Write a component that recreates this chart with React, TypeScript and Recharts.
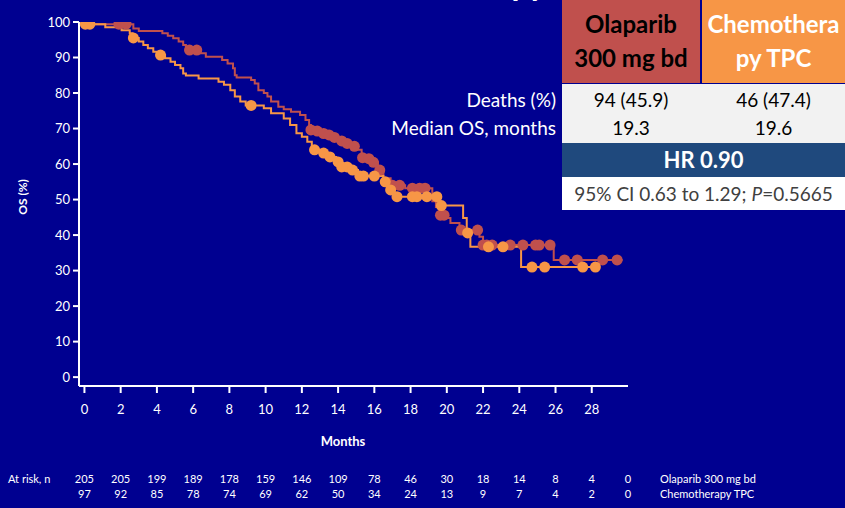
import { ComposedChart, Line, Scatter, XAxis, YAxis } from "recharts";

// KM steps: [months, OS %]
const olaparibCurve: [number, number][] = [
  [0, 100], [0.15, 99.4], [2.7, 98.2], [3.0, 97.5], [4.3, 96.8], [4.6, 96.1], [4.9, 95.4], [5.2, 94.5],
  [5.45, 93.5], [5.6, 92.1], [6.4, 91.2], [6.7, 90.2], [7.6, 89.3], [7.9, 88.3], [8.2, 87], [8.3, 85],
  [8.4, 84.4], [9.2, 83.7], [9.4, 82.7], [9.6, 80.8], [9.9, 80], [10.1, 79], [10.3, 77.6], [10.7, 76.1],
  [11.0, 75.4], [11.4, 74.7], [11.9, 73.8], [12.2, 72.4], [12.4, 71], [12.5, 69.6], [12.8, 69.3],
  [13.1, 68.6], [13.45, 68.2], [13.7, 67.5], [14.0, 66.5], [14.4, 65.8], [14.8, 65], [15.1, 64],
  [15.3, 61.8], [15.6, 61.5], [15.9, 60.5], [16.2, 58.3], [16.5, 56], [16.9, 54], [17.7, 53.2],
  [19.2, 49.5], [19.4, 47.9], [19.6, 45.6], [20.0, 44.8], [20.2, 43.4], [20.7, 41.4], [21.8, 39.5],
  [22.0, 37.2], [25.9, 33], [29.7, 33],
];

const chemoCurve: [number, number][] = [
  [0, 100], [0.15, 99.4], [1.15, 98.5], [2.05, 97.7], [2.5, 96.8], [2.65, 95.5], [3.0, 94.5], [3.25, 93.5],
  [3.5, 92.6], [3.8, 91.6], [4.1, 90.7], [4.45, 89.8], [4.75, 88.8], [5.0, 87.9], [5.3, 87], [5.45, 85.5],
  [5.6, 84.9], [6.3, 84.1], [7.4, 83.2], [7.7, 82.3], [8.05, 80.8], [8.3, 79], [8.6, 77.6], [8.9, 76.5],
  [9.9, 75.7], [10.3, 74.3], [11.0, 72.8], [11.35, 71], [11.7, 68.7], [12.0, 67.7], [12.3, 66.3],
  [12.55, 64], [13.0, 63.1], [13.4, 62], [13.9, 60.6], [14.1, 59.2], [14.7, 58.3], [15.1, 56.6],
  [16.5, 55], [16.8, 52.7], [17.1, 50.8], [19.6, 48.3], [20.9, 44.8], [21.1, 40.6], [21.3, 36.7],
  [24.1, 31], [28.3, 31],
];

// censored patients
const olaparibCensored: [number, number][] = [
  [1.9, 99.4], [2.3, 99.4], [5.8, 92.1], [6.2, 92.1], [12.5, 69.6], [12.85, 69.3], [13.2, 68.6],
  [13.5, 68.2], [13.8, 67.5], [14.2, 66.5], [14.5, 65.8], [14.9, 65], [15.35, 61.8], [15.7, 61.5],
  [15.95, 60.5], [16.3, 58.3], [17.0, 54], [17.4, 54], [18.1, 53.2], [18.5, 53.2], [18.8, 53.2],
  [19.65, 45.6], [19.85, 45.6], [20.8, 41.4], [21.7, 41.4], [22.0, 37.2], [22.2, 37.2], [22.5, 37.2],
  [23.5, 37.2], [24.2, 37.2], [24.9, 37.2], [25.1, 37.2], [25.7, 37.2], [26.5, 33], [27.2, 33],
  [28.6, 33], [29.4, 33],
];

const chemoCensored: [number, number][] = [
  [0.05, 99.4], [0.3, 99.4], [2.7, 95.5], [4.2, 90.7], [9.2, 76.5], [12.7, 64], [13.2, 63.1],
  [13.55, 62], [14.0, 60.6], [14.2, 59.2], [14.5, 59.2], [14.8, 58.3], [15.2, 56.6], [15.4, 56.6],
  [16.0, 56.6], [16.6, 55], [16.9, 52.7], [17.25, 50.8], [18.1, 50.8], [18.35, 50.8], [18.9, 50.8],
  [19.45, 50.8], [19.7, 48.3], [21.15, 40.6], [22.3, 36.7], [23.1, 36.7], [24.7, 31], [25.4, 31],
  [27.5, 31], [28.2, 31],
];

const monthTicks = [0, 2, 4, 6, 8, 10, 12, 14, 16, 18, 20, 22, 24, 26, 28];
const osTicks = [0, 10, 20, 30, 40, 50, 60, 70, 80, 90, 100];
const riskTimes = [0, 2, 4, 6, 8, 10, 12, 14, 16, 18, 20, 22, 24, 26, 28, 30];
const riskOlaparib = [205, 205, 199, 189, 178, 159, 146, 109, 78, 46, 30, 18, 14, 8, 4, 0];
const riskChemo = [97, 92, 85, 78, 74, 69, 62, 50, 34, 24, 13, 9, 7, 4, 2, 0];

const RED = "#C0504D";
const ORANGE = "#F79646";
const BG = "#000090";
const FONT = "Lato, 'Open Sans', sans-serif";

const toPts = (arr: [number, number][]) => arr.map(([t, s]) => ({ t, s }));

const dot = (color: string) => (p: any) => <circle cx={p.cx} cy={p.cy} r={5.5} fill={color} />;

export default function App() {
  const riskAxis = (id: string, values: number[]) => (
    <XAxis
      xAxisId={id}
      type="number"
      dataKey="t"
      domain={[-0.3, 30]}
      allowDataOverflow
      ticks={riskTimes}
      interval={0}
      height={15}
      axisLine={false}
      tickLine={false}
      tickSize={0}
      tickMargin={9}
      tick={{ fill: "#fff", fontSize: 11, fontFamily: FONT }}
      tickFormatter={(v: number) => String(values[riskTimes.indexOf(v)] ?? "")}
    />
  );

  return (
    <div style={{ position: "absolute", left: 0, top: 0, width: 845, height: 508, background: BG, overflow: "hidden", fontFamily: FONT }}>
      {/* slide title, cut off at the top edge */}
      <div style={{ position: "absolute", right: 299, top: -32, height: 32, lineHeight: "32px", fontSize: 32, fontWeight: 700, color: "#fff", whiteSpace: "nowrap" }}>
        Chemotherapy
      </div>

      <ComposedChart width={845} height={508} margin={{ top: 22, right: 217, bottom: 12, left: 19 }}>
        <XAxis
          type="number"
          dataKey="t"
          domain={[-0.3, 30]}
          allowDataOverflow
          ticks={monthTicks}
          interval={0}
          height={80}
          stroke="#fff"
          strokeWidth={2}
          tickSize={7}
          tickMargin={12}
          tick={{ fill: "#fff", fontSize: 13, fontFamily: FONT }}
        />
        {riskAxis("r1", riskOlaparib)}
        {riskAxis("r2", riskChemo)}
        <YAxis
          type="number"
          dataKey="s"
          domain={[-2.5, 100]}
          allowDataOverflow
          ticks={osTicks}
          interval={0}
          width={60}
          stroke="#fff"
          strokeWidth={2}
          tickSize={6}
          tickMargin={3}
          tick={{ fill: "#fff", fontSize: 13, fontFamily: FONT }}
        />
        <Line data={toPts(olaparibCurve)} dataKey="s" type="stepAfter" stroke={RED} strokeWidth={2} dot={false} activeDot={false} isAnimationActive={false} />
        <Scatter data={toPts(olaparibCensored)} dataKey="s" fill={RED} shape={dot(RED)} isAnimationActive={false} />
        <Line data={toPts(chemoCurve)} dataKey="s" type="stepAfter" stroke={ORANGE} strokeWidth={2} dot={false} activeDot={false} isAnimationActive={false} />
        <Scatter data={toPts(chemoCensored)} dataKey="s" fill={ORANGE} shape={dot(ORANGE)} isAnimationActive={false} />
      </ComposedChart>

      <div style={{ position: "absolute", left: 22, top: 197, transform: "translate(-50%, -50%) rotate(-90deg)", color: "#fff", fontWeight: 700, fontSize: 12, whiteSpace: "nowrap" }}>
        OS (%)
      </div>
      <div style={{ position: "absolute", left: 343, top: 441, transform: "translate(-50%, -50%)", color: "#fff", fontWeight: 700, fontSize: 13 }}>
        Months
      </div>

      <div style={{ position: "absolute", left: 8, top: 471, color: "#fff", fontSize: 11, lineHeight: "16px" }}>At risk, n</div>
      <div style={{ position: "absolute", left: 660, top: 471, color: "#fff", fontSize: 11, lineHeight: "16px" }}>Olaparib 300 mg bd</div>
      <div style={{ position: "absolute", left: 660, top: 486, color: "#fff", fontSize: 11, lineHeight: "16px" }}>Chemotherapy TPC</div>

      {/* summary table */}
      <div style={{ position: "absolute", left: 562, top: 0, width: 138, height: 83, background: RED, color: "#000", fontWeight: 700, fontSize: 24, lineHeight: "34px", textAlign: "center", paddingTop: 7, boxSizing: "border-box" }}>
        Olaparib<br />300 mg bd
      </div>
      <div style={{ position: "absolute", left: 702, top: 0, width: 143, height: 83, background: ORANGE, color: "#fff", fontWeight: 700, fontSize: 24, lineHeight: "34px", textAlign: "center", paddingTop: 7, boxSizing: "border-box", whiteSpace: "nowrap" }}>
        Chemothera<br />py TPC
      </div>
      <div style={{ position: "absolute", left: 562, top: 84, width: 283, height: 59, background: "#F2F2F2" }} />
      {[["Deaths (%)", "94 (45.9)", "46 (47.4)", 86], ["Median OS, months", "19.3", "19.6", 114]].map(([label, a, b, top]) => (
        <div key={label as string}>
          <div style={{ position: "absolute", right: 289, top: top as number, color: "#fff", fontSize: 19, lineHeight: "28px", whiteSpace: "nowrap" }}>{label}</div>
          <div style={{ position: "absolute", left: 562, width: 138, top: top as number, color: "#000", fontSize: 19, lineHeight: "28px", textAlign: "center" }}>{a}</div>
          <div style={{ position: "absolute", left: 702, width: 143, top: top as number, color: "#000", fontSize: 19, lineHeight: "28px", textAlign: "center" }}>{b}</div>
        </div>
      ))}
      <div style={{ position: "absolute", left: 562, top: 143, width: 283, height: 34, background: "#1F497D", color: "#fff", fontWeight: 700, fontSize: 22, lineHeight: "34px", textAlign: "center" }}>
        HR 0.90
      </div>
      <div style={{ position: "absolute", left: 562, top: 177, width: 283, height: 33, background: "#fff", color: "#404040", fontSize: 19, lineHeight: "33px", textAlign: "center", whiteSpace: "nowrap" }}>
        95% CI 0.63 to 1.29; <i>P</i>=0.5665
      </div>
    </div>
  );
}
